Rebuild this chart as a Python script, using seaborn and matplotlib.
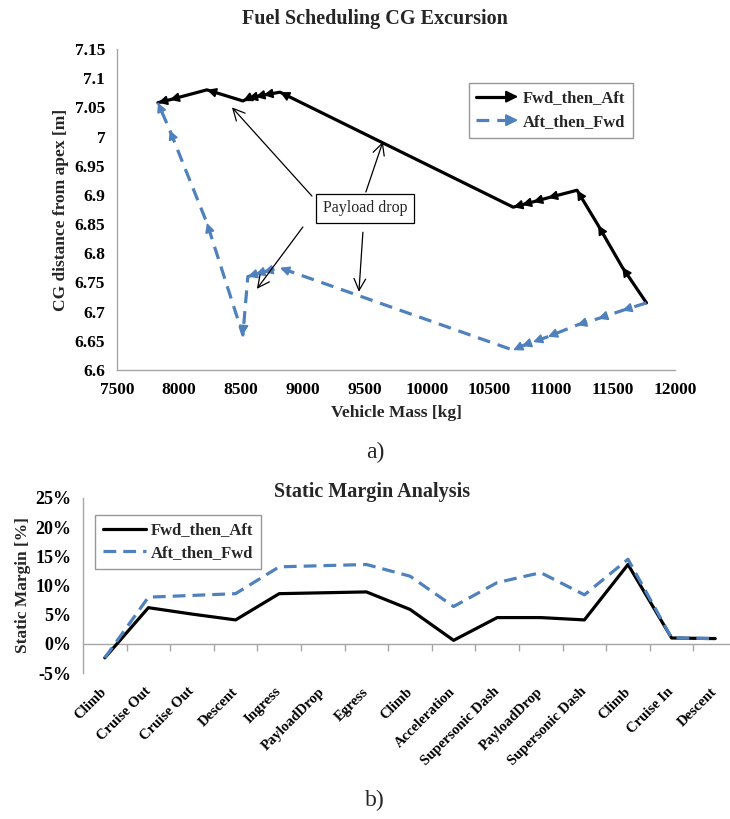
import numpy as np
import pandas as pd
import matplotlib
matplotlib.use("Agg")
import matplotlib.pyplot as plt
import seaborn as sns
from matplotlib.patches import FancyArrowPatch
from matplotlib.lines import Line2D
from matplotlib.legend_handler import HandlerBase

# --- CG excursion along the fuel schedule -------------------------------
vehicle_mass = [11770, 11575, 11380, 11210, 10975, 10855, 10765, 10695,
                8815, 8680, 8615, 8555, 8515, 8225, 7925, 7830]
cg_fwd_then_aft = [6.715, 6.776, 6.848, 6.908, 6.895, 6.888, 6.883, 6.879,
                   7.076, 7.071, 7.068, 7.065, 7.061, 7.080, 7.063, 7.058]
cg_aft_then_fwd = [6.715, 6.702, 6.688, 6.677, 6.657, 6.648, 6.641, 6.634,
                   6.775, 6.768, 6.764, 6.760, 6.660, 6.852, 7.011, 7.058]

mass_ticks = [7500, 8000, 8500, 9000, 9500, 10000, 10500, 11000, 11500, 12000]
cg_ticks = [6.6, 6.65, 6.7, 6.75, 6.8, 6.85, 6.9, 6.95, 7.0, 7.05, 7.1, 7.15]

# "Payload drop" callout: arrow tips (mass, cg) and where each arrow leaves the label
drop_tip_mass = [8427, 9644, 8628, 9451]
drop_tip_cg = [7.050, 6.991, 6.739, 6.734]
drop_tail_mass = [9072, 9507, 8999, 9483]
drop_tail_cg = [6.898, 6.905, 6.845, 6.836]
drop_label_mass, drop_label_cg = 9499, 6.877

# --- Static margin per mission phase ------------------------------------
phases = ["Climb", "Cruise Out", "Cruise Out", "Descent", "Ingress",
          "PayloadDrop", "Egress", "Climb", "Acceleration", "Supersonic Dash",
          "PayloadDrop", "Supersonic Dash", "Climb", "Cruise In", "Descent"]
sm_fwd_then_aft = [-2.4, 6.2, 5.1, 4.1, 8.6, 8.75, 8.9, 5.9, 0.6, 4.5,
                   4.5, 4.1, 13.6, 1.0, 0.9]
sm_aft_then_fwd = [-2.4, 8.0, 8.3, 8.6, 13.2, 13.4, 13.6, 11.6, 6.4, 10.5,
                   12.2, 8.4, 14.5, 1.0, 0.9]
sm_ticks = [-5, 0, 5, 10, 15, 20, 25]

series_names = ["Fwd_then_Aft", "Aft_then_Fwd"]
BLACK = "#000000"
BLUE = "#4F81BD"
GRAY = "#A6A6A6"
palette = {series_names[0]: BLACK, series_names[1]: BLUE}
DASH_TOP = (4, 2.5)
DASH_BOTTOM = (4, 2.2)

sns.set_style("white")
plt.rcParams["font.family"] = ["Liberation Serif", "DejaVu Serif"]

W, H = 730, 819
fig = plt.figure(figsize=(W / 100, H / 100), dpi=100)


def px_axes(left, top, right, bottom):
    return fig.add_axes([left / W, 1 - bottom / H, (right - left) / W, (bottom - top) / H])


def style_spines(ax):
    for s in ("top", "right"):
        ax.spines[s].set_visible(False)
    for s in ("left", "bottom"):
        ax.spines[s].set_color(GRAY)
        ax.spines[s].set_linewidth(1.0)
    ax.tick_params(axis="both", which="both", direction="out", length=5,
                   width=1.0, color=GRAY, labelcolor="black")


class ArrowLegendHandler(HandlerBase):
    """Legend key: a solid or dashed line finished with an arrowhead."""

    def create_artists(self, legend, orig_handle, xdescent, ydescent,
                       width, height, fontsize, trans):
        y = height / 2 - ydescent
        x0, x1 = -xdescent, width - xdescent
        color = orig_handle.get_color()
        lw = orig_handle.get_linewidth()
        shaft = Line2D([x0, x1 - 5], [y, y], color=color, lw=lw, transform=trans)
        if orig_handle.get_linestyle() != "-":
            shaft.set_dashes(DASH_TOP)
        head = FancyArrowPatch((x1 - 7, y), (x1, y),
                               arrowstyle="-|>,head_length=0.7,head_width=0.35",
                               mutation_scale=10, color=color, lw=1.5,
                               shrinkA=0, shrinkB=0, transform=trans)
        return [shaft, head]


# ======================= a) CG excursion =================================
ax1 = px_axes(117, 49, 675, 370)
path_df = pd.concat([
    pd.DataFrame({"mass": vehicle_mass, "cg": cg_fwd_then_aft, "series": series_names[0]}),
    pd.DataFrame({"mass": vehicle_mass, "cg": cg_aft_then_fwd, "series": series_names[1]}),
], ignore_index=True)

sns.lineplot(data=path_df, x="mass", y="cg", hue="series", style="series",
             palette=palette, dashes={series_names[0]: "", series_names[1]: DASH_TOP},
             sort=False, estimator=None, linewidth=2.3, legend=False, ax=ax1)

ax1.set_xlim(7500, 12000)
ax1.set_ylim(6.6, 7.15)
ax1.set_xticks(mass_ticks)
ax1.set_xticklabels([str(m) for m in mass_ticks], fontsize=12.5, fontweight="bold")
ax1.set_yticks(cg_ticks)
ax1.set_yticklabels([f"{round(v, 2):g}" for v in cg_ticks], fontsize=12.5, fontweight="bold")
style_spines(ax1)
ax1.set_xlabel("Vehicle Mass [kg]", fontsize=12.5, fontweight="bold", labelpad=5)
ax1.set_ylabel("CG distance from apex [m]", fontsize=12.5, fontweight="bold", labelpad=4)
ax1.set_title("Fuel Scheduling CG Excursion", fontsize=14.5, fontweight="bold",
              x=(375 - 117) / 558, pad=18)

# arrowheads at the end of every leg of both paths
fig.canvas.draw()
head_style = "-|>,head_length=0.55,head_width=0.28"
for name, cg in zip(series_names, [cg_fwd_then_aft, cg_aft_then_fwd]):
    pts = ax1.transData.transform(np.column_stack([vehicle_mass, cg]))
    for i in range(1, len(pts)):
        d = pts[i] - pts[i - 1]
        n = np.hypot(*d)
        if n == 0:
            continue
        u = d / n
        L = 5.5  # points
        ax1.annotate("", xy=(vehicle_mass[i], cg[i]), xycoords="data",
                     xytext=(-u[0] * L, -u[1] * L), textcoords="offset points",
                     arrowprops=dict(arrowstyle=head_style, mutation_scale=10,
                                     color=palette[name], lw=1.2,
                                     shrinkA=0, shrinkB=0))

# payload drop callout
ax1.text(drop_label_mass, drop_label_cg, "Payload drop", fontsize=11.5,
         ha="center", va="center", zorder=5,
         bbox=dict(boxstyle="square,pad=0.4", fc="white", ec="black", lw=0.9))
for tm, tc, sm_, sc in zip(drop_tip_mass, drop_tip_cg, drop_tail_mass, drop_tail_cg):
    ax1.annotate("", xy=(tm, tc), xytext=(sm_, sc),
                 arrowprops=dict(arrowstyle="->,head_length=0.6,head_width=0.3",
                                 mutation_scale=14, color="black", lw=0.9,
                                 shrinkA=0, shrinkB=0), zorder=4)

h1 = [Line2D([], [], color=BLACK, lw=2.3, linestyle="-"),
      Line2D([], [], color=BLUE, lw=2.3, linestyle="--")]
leg1 = ax1.legend(h1, series_names, handler_map={Line2D: ArrowLegendHandler()},
                  loc="upper left", bbox_to_anchor=((469 - 117) / 558, 1 - (83 - 49) / 321),
                  borderaxespad=0, frameon=True, fancybox=False, handlelength=2.5,
                  handletextpad=0.3, labelspacing=0.45, borderpad=0.45,
                  prop={"weight": "bold", "size": 12})
leg1.get_frame().set_edgecolor("#7F7F7F")
leg1.get_frame().set_linewidth(1.0)

fig.text(375 / W, 1 - 452 / H, "a)", fontsize=17, ha="center", va="center")

# ======================= b) Static margin ================================
ax2 = px_axes(83, 498, 83 + 15 * 43.6, 673)
step = np.arange(len(phases))
sm_df = pd.concat([
    pd.DataFrame({"step": step, "margin": sm_fwd_then_aft, "series": series_names[0]}),
    pd.DataFrame({"step": step, "margin": sm_aft_then_fwd, "series": series_names[1]}),
], ignore_index=True)
sns.lineplot(data=sm_df, x="step", y="margin", hue="series", style="series",
             palette=palette, dashes={series_names[0]: "", series_names[1]: DASH_BOTTOM},
             estimator=None, linewidth=2.3, ax=ax2)

ax2.set_xlim(-0.5, len(phases) - 0.5)
ax2.set_ylim(-5, 25)
ax2.set_yticks(sm_ticks)
ax2.set_yticklabels([f"{v}%" for v in sm_ticks], fontsize=13, fontweight="bold")
style_spines(ax2)
ax2.spines["bottom"].set_visible(False)
ax2.set_xticks(step)
ax2.set_xticklabels(phases, rotation=45, ha="right", va="center",
                    rotation_mode="anchor", fontsize=10.5, fontweight="bold")
ax2.tick_params(axis="x", length=0, pad=12)
ax2.set_xlabel("")
ax2.set_ylabel("Static Margin [%]", fontsize=12.5, fontweight="bold", labelpad=3)
ax2.set_title("Static Margin Analysis", fontsize=14.5, fontweight="bold",
              x=(372 - 83) / (15 * 43.6), pad=1)

# category axis crossing at 0 %, with tick marks between phases
zero_frac = (0 - (-5)) / 30
sec = ax2.secondary_xaxis(zero_frac)
sec.set_xticks(step[:-1] + 0.5)
sec.tick_params(axis="x", direction="out", length=5, width=1.0, color=GRAY,
                labelbottom=False, labeltop=False, bottom=True, top=False)
for sp in sec.spines.values():
    sp.set_color(GRAY)
    sp.set_linewidth(1.0)

leg2 = ax2.legend(loc="upper left", bbox_to_anchor=(12 / 654, 1 - 17 / 175),
                  borderaxespad=0, frameon=True, fancybox=False, handlelength=2.6,
                  handletextpad=0.3, labelspacing=0.4, borderpad=0.45,
                  prop={"weight": "bold", "size": 12})
leg2.get_frame().set_edgecolor("#7F7F7F")
leg2.get_frame().set_linewidth(1.0)
for line in leg2.get_lines():
    line.set_linewidth(2.3)

fig.text(375 / W, 1 - 800 / H, "b)", fontsize=17, ha="center", va="center")

fig.savefig("out.png", dpi=100)
